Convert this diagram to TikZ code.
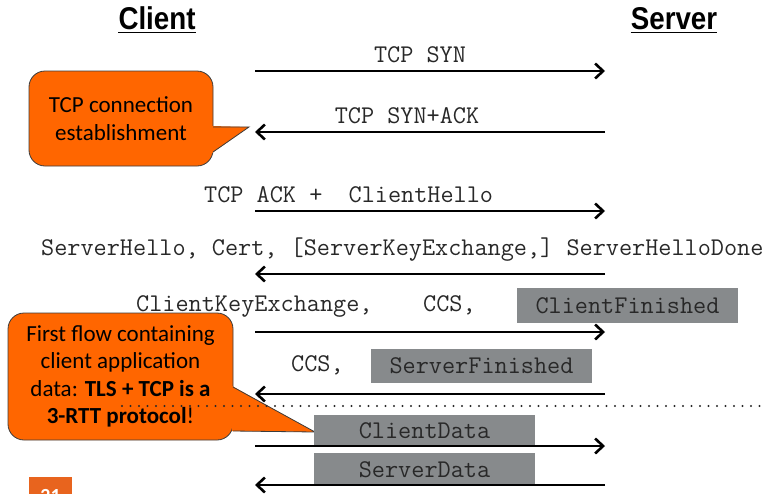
\documentclass[tikz,border=0pt]{standalone}
\usepackage{fontspec}
\setmainfont{Carlito}
\newfontfamily\headfont{Liberation Sans}
\usetikzlibrary{arrows.meta}
\definecolor{callorange}{RGB}{255,102,0}
\definecolor{pageorange}{RGB}{232,100,30}
\definecolor{boxgray}{RGB}{135,138,140}
\definecolor{txtgray}{RGB}{40,40,40}
\definecolor{edgegray}{RGB}{60,60,60}
\tikzset{
  msg/.style={line width=2.6pt,-{Straight Barb[length=8pt,width=15pt]}},
  lbl/.style={font=\fontsize{25.5}{28}\ttfamily,text=txtgray,inner sep=0pt},
  graybox/.style={fill=boxgray,minimum width=221pt,inner sep=0pt,font=\fontsize{25.5}{28}\ttfamily,text=txtgray},
  callbox/.style={fill=callorange,draw=edgegray,line width=0.8pt,rounded corners=16pt,inner sep=0pt,align=center,font=\fontsize{23}{27.5}\selectfont,text=black},
  head/.style={font=\headfont\bfseries\fontsize{31.5}{33}\selectfont,inner sep=0pt},
  dotline/.style={line width=2.4pt,line cap=round,dash pattern=on 0pt off 8.5pt,draw=txtgray}
}
\begin{document}
\begin{tikzpicture}[x=1pt,y=-1pt]
\useasboundingbox (0,0) rectangle (765,493);
% headings
\node[head,anchor=base] (hc) at (157,29) {\scalebox{0.88}[1]{Client}};
\node[head,anchor=base] (hs) at (674,29) {\scalebox{0.88}[1]{Server}};
\draw[line width=1.8pt] ([yshift=-3.5pt]hc.base west) -- ([yshift=-3.5pt]hc.base east);
\draw[line width=1.8pt] ([yshift=-3.5pt]hs.base west) -- ([yshift=-3.5pt]hs.base east);
% lifeline end points
\foreach \n/\y in {1/71,2/132,3/211,4/274,5/332,6/394,7/446,8/485}{
  \coordinate (L\n) at (255,\y);
  \coordinate (R\n) at (605,\y);
}
% callout 1
\node[callbox,minimum width=184pt,minimum height=95pt] (co1) at (121,118.5) {TCP connection\\establishment};
\fill[callorange] (212,126) -- (249,127) -- (212,153) -- cycle;
\draw[edgegray,line width=0.8pt,line join=miter] (213,127) -- (249,127) -- (213,152);
% messages
\node[lbl,anchor=base] (m1) at (420,62) {TCP SYN};
\draw[msg] (L1) -- (R1);
\node[lbl,anchor=base] (m2) at (407,123) {TCP SYN+ACK};
\draw[msg] (R2) -- (L2);
\node[lbl,anchor=base west] (m3) at (204,202) {TCP ACK +~~ClientHello};
\draw[msg] (L3) -- (R3);
\node[lbl,anchor=base west] (m4) at (41,255) {ServerHello, Cert, [ServerKeyExchange,] ServerHelloDone};
\draw[msg] (R4) -- (L4);
\node[lbl,anchor=base west] (m5a) at (136,311) {ClientKeyExchange,};
\node[lbl,anchor=base west] (m5b) at (423,311) {CCS,};
\node[graybox,minimum height=35pt] (cf) at (627.5,305.5) {ClientFinished};
\draw[msg] (L5) -- (R5);
\node[lbl,anchor=base west] (m6) at (291,371) {CCS,};
\node[graybox,minimum height=34pt] (sf) at (481.5,366) {ServerFinished};
\draw[msg] (R6) -- (L6);
% callout 2
\node[callbox,minimum width=225pt,minimum height=127pt] (co2) at (120.5,376.5) {First flow containing\\client application\\data: \textbf{TLS + TCP is a}\\\textbf{3-RTT protocol}!};
\fill[callorange] (232,386) -- (315,432) -- (232,431) -- cycle;
\draw[edgegray,line width=0.8pt,line join=miter] (233,387) -- (315,432) -- (233,431);
% separator
\coordinate (dl) at (122,406);
\coordinate (dr) at (765,406);
\draw[dotline] (dl) -- (dr);
% data
\node[graybox,minimum height=32pt] (cd) at (424.5,431) {ClientData};
\draw[msg] (L7) -- (R7);
\node[graybox,minimum height=33pt] (sd) at (424.5,469.5) {ServerData};
\draw[msg] (R8) -- (L8);
% page number
\node[fill=pageorange,minimum width=43pt,minimum height=24pt,inner sep=0pt,anchor=north west] (pg) at (29,477) {};
\node[font=\bfseries\fontsize{20}{20}\selectfont,text=white,anchor=base,inner sep=0pt] (pgn) at (50.5,502) {21};
\end{tikzpicture}
\end{document}
